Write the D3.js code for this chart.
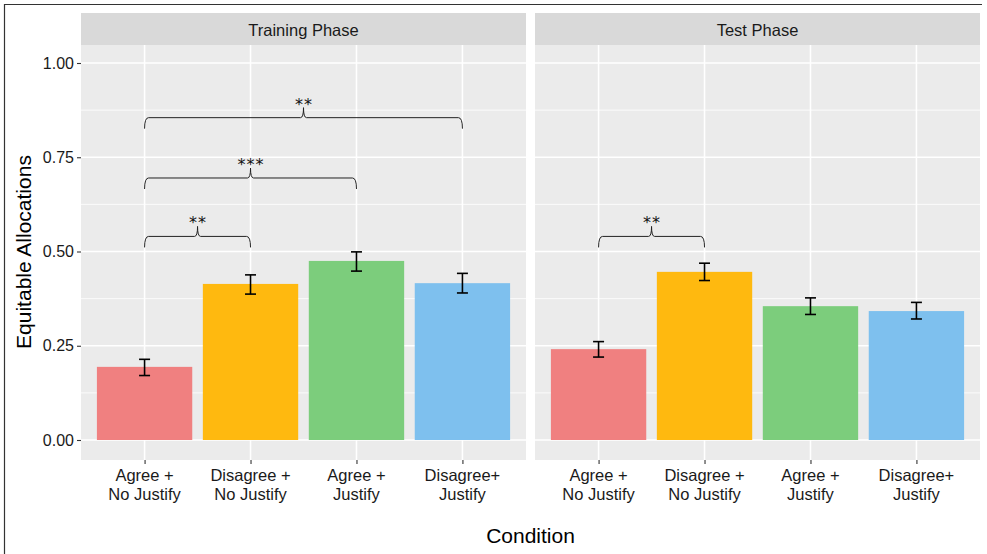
<!DOCTYPE html>
<html>
<head>
<meta charset="utf-8">
<script src="https://cdn.jsdelivr.net/npm/d3@7"></script>
<style>
  body { margin: 0; background: #fff; }
  svg { font-family: "Liberation Sans", Arial, Helvetica, sans-serif; }
</style>
</head>
<body>
<svg id="chart" width="987" height="554"></svg>
<script>
// data
const phases = ['Training Phase', 'Test Phase']
const conditions = ['Agree +\nNo Justify', 'Disagree +\nNo Justify', 'Agree +\nJustify', 'Disagree+\nJustify']
const colors = ['#F08080', '#FFB90F', '#7CCD7C', '#7EC0EE']
const trainingMeans = [0.194, 0.414, 0.475, 0.416]
const trainingLow = [0.171, 0.387, 0.448, 0.390]
const trainingHigh = [0.214, 0.438, 0.499, 0.442]
const testMeans = [0.241, 0.446, 0.355, 0.342]
const testLow = [0.220, 0.423, 0.333, 0.321]
const testHigh = [0.261, 0.469, 0.377, 0.365]
const yTicks = [0, 0.25, 0.5, 0.75, 1]
const yMinor = [0.125, 0.375, 0.625, 0.875]
// brackets: [phase index, from condition, to condition, height, label]
const brackets = [
  [0, 0, 1, 0.54, '**'],
  [0, 0, 2, 0.695, '***'],
  [0, 0, 3, 0.855, '**'],
  [1, 0, 1, 0.54, '**']
]

const series = [
  {means: trainingMeans, low: trainingLow, high: trainingHigh},
  {means: testMeans, low: testLow, high: testHigh}
]

const svg = d3.select('#chart')

// outer frame (top and left edges visible)
svg.append('line').attr('x1', 4).attr('x2', 982).attr('y1', 4.5).attr('y2', 4.5)
  .attr('stroke', '#333').attr('stroke-width', 1.2)
svg.append('line').attr('x1', 4.5).attr('x2', 4.5).attr('y1', 4).attr('y2', 554)
  .attr('stroke', '#333').attr('stroke-width', 1.2)

const panelLefts = [81, 535]
const panelWidth = 445
const stripTop = 13
const plotTop = 45
const plotBottom = 460

const yScale = d3.scaleLinear().domain([0, 1]).range([440, 63])

phases.forEach((phase, p) => {
  const left = panelLefts[p]
  const g = svg.append('g')

  const xScale = d3.scalePoint()
    .domain(d3.range(conditions.length))
    .range([left + panelWidth * 0.6 / 4.2, left + panelWidth * 3.6 / 4.2])
  const step = xScale.step()
  const barW = step * 0.9

  // strip
  g.append('rect').attr('x', left).attr('y', stripTop)
    .attr('width', panelWidth).attr('height', plotTop - stripTop).attr('fill', '#D9D9D9')
  g.append('text').attr('x', left + panelWidth / 2).attr('y', 35.5)
    .attr('text-anchor', 'middle').attr('font-size', 16.5).attr('fill', '#1a1a1a').text(phase)

  // panel background
  g.append('rect').attr('x', left).attr('y', plotTop)
    .attr('width', panelWidth).attr('height', plotBottom - plotTop).attr('fill', '#EBEBEB')

  g.selectAll('.minor').data(yMinor).enter().append('line')
    .attr('x1', left).attr('x2', left + panelWidth)
    .attr('y1', d => yScale(d)).attr('y2', d => yScale(d))
    .attr('stroke', '#fff').attr('stroke-width', 0.8)
  g.selectAll('.major').data(yTicks).enter().append('line')
    .attr('x1', left).attr('x2', left + panelWidth)
    .attr('y1', d => yScale(d)).attr('y2', d => yScale(d))
    .attr('stroke', '#fff').attr('stroke-width', 1.6)
  g.selectAll('.vgrid').data(d3.range(conditions.length)).enter().append('line')
    .attr('x1', d => xScale(d)).attr('x2', d => xScale(d))
    .attr('y1', plotTop).attr('y2', plotBottom)
    .attr('stroke', '#fff').attr('stroke-width', 1.6)

  const s = series[p]

  // bars
  g.selectAll('.bar').data(s.means).enter().append('rect')
    .attr('x', (d, i) => xScale(i) - barW / 2)
    .attr('y', d => yScale(d))
    .attr('width', barW)
    .attr('height', d => yScale(0) - yScale(d))
    .attr('fill', (d, i) => colors[i])

  // error bars
  const eb = g.selectAll('.err').data(s.means).enter().append('g')
  eb.append('line')
    .attr('x1', (d, i) => xScale(i)).attr('x2', (d, i) => xScale(i))
    .attr('y1', (d, i) => yScale(s.low[i])).attr('y2', (d, i) => yScale(s.high[i]))
    .attr('stroke', '#000').attr('stroke-width', 1.6)
  eb.append('line')
    .attr('x1', (d, i) => xScale(i) - 5.5).attr('x2', (d, i) => xScale(i) + 5.5)
    .attr('y1', (d, i) => yScale(s.low[i])).attr('y2', (d, i) => yScale(s.low[i]))
    .attr('stroke', '#000').attr('stroke-width', 1.6)
  eb.append('line')
    .attr('x1', (d, i) => xScale(i) - 5.5).attr('x2', (d, i) => xScale(i) + 5.5)
    .attr('y1', (d, i) => yScale(s.high[i])).attr('y2', (d, i) => yScale(s.high[i]))
    .attr('stroke', '#000').attr('stroke-width', 1.6)

  // significance braces
  brackets.filter(b => b[0] === p).forEach(b => {
    const x1 = xScale(b[1]), x2 = xScale(b[2]), xm = (x1 + x2) / 2
    const y = yScale(b[3])
    const path = d3.path()
    path.moveTo(x1, y + 11)
    path.quadraticCurveTo(x1, y, x1 + 4, y)
    path.lineTo(xm - 3, y)
    path.quadraticCurveTo(xm, y, xm, y - 10)
    path.quadraticCurveTo(xm, y, xm + 3, y)
    path.lineTo(x2 - 4, y)
    path.quadraticCurveTo(x2, y, x2, y + 11)
    g.append('path').attr('d', path.toString())
      .attr('fill', 'none').attr('stroke', '#222').attr('stroke-width', 1)
    g.append('text').attr('x', xm + 0.5).attr('y', y - 8)
      .attr('text-anchor', 'middle').attr('font-size', 16).attr('fill', '#111')
      .attr('font-family', '"DejaVu Sans", sans-serif')
      .attr('letter-spacing', 1)
      .text(b[4])
  })

  // x axis
  const xAxis = d3.axisBottom(xScale).tickSize(4).tickFormat('')
  const ax = g.append('g').attr('transform', `translate(0, ${plotBottom})`).call(xAxis)
  ax.select('.domain').remove()
  ax.selectAll('line').attr('stroke', '#333').attr('stroke-width', 1.1)
  conditions.forEach((c, i) => {
    const t = g.append('text').attr('text-anchor', 'middle')
      .attr('font-size', 16.5).attr('fill', '#1a1a1a')
    c.split('\n').forEach((line, k) => {
      t.append('tspan').attr('x', xScale(i)).attr('y', 480.5 + k * 19).text(line)
    })
  })
})

// y axis
const yAxis = d3.axisLeft(yScale).tickValues(yTicks).tickSize(4).tickPadding(3)
  .tickFormat(d3.format('.2f'))
const yax = svg.append('g').attr('transform', `translate(${panelLefts[0]}, 0)`).call(yAxis)
yax.select('.domain').remove()
yax.selectAll('line').attr('stroke', '#333').attr('stroke-width', 1.1)
yax.selectAll('text').attr('font-size', 16).attr('fill', '#1a1a1a')
  .attr('font-family', '"Liberation Sans", Arial, sans-serif')

// axis titles
svg.append('text').attr('x', (panelLefts[0] + panelLefts[1] + panelWidth) / 2).attr('y', 543)
  .attr('text-anchor', 'middle').attr('font-size', 21).attr('fill', '#000').text('Condition')
svg.append('text').attr('transform', 'translate(31, 252) rotate(-90)')
  .attr('text-anchor', 'middle').attr('font-size', 21).attr('fill', '#000').text('Equitable Allocations')
</script>
</body>
</html>
